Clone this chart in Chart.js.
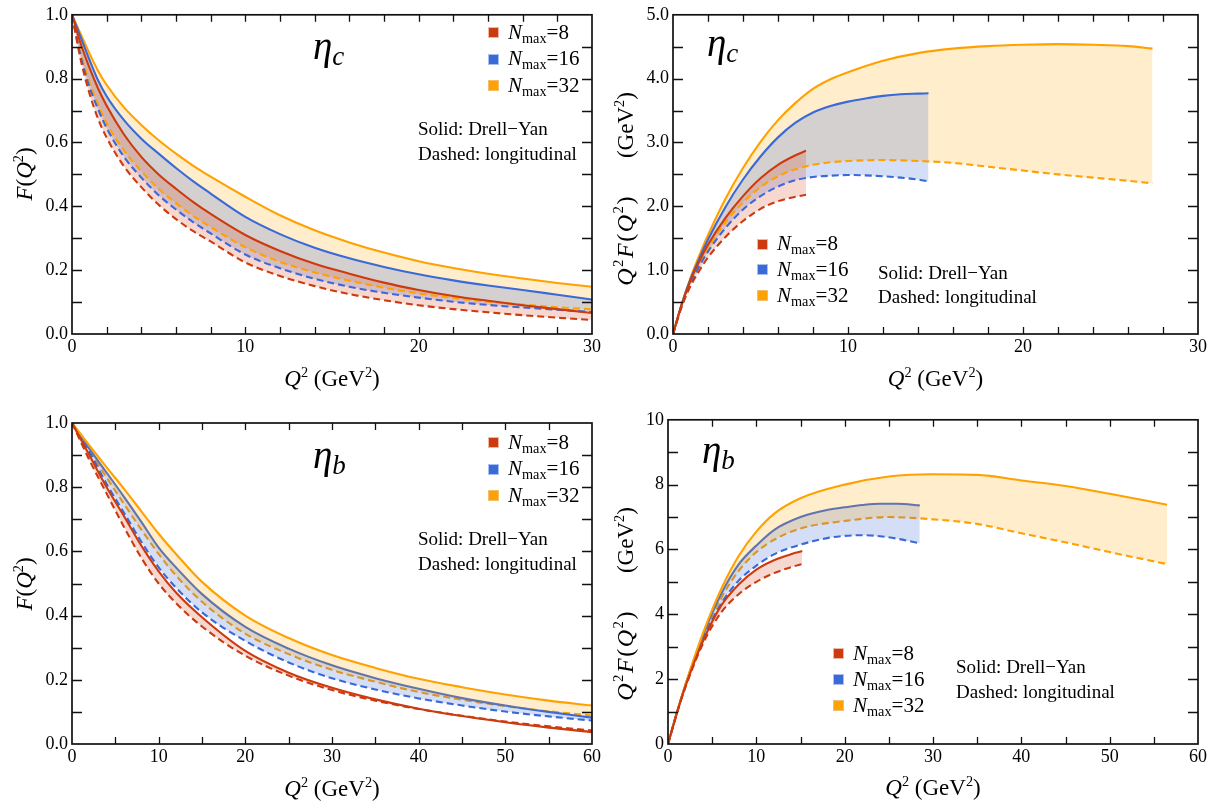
<!DOCTYPE html>
<html><head><meta charset="utf-8">
<script src="https://cdn.jsdelivr.net/npm/chart.js@4.4.0/dist/chart.umd.min.js"></script>
<style>
body{margin:0;background:#fff;width:1216px;height:805px;position:relative;overflow:hidden;font-family:'Liberation Serif','Times New Roman',serif;color:#000;}
.pane{position:absolute;width:608px;height:400px;}
.pane canvas{display:block;}
.t{position:absolute;white-space:nowrap;z-index:5;}
.sup{font-size:0.62em;vertical-align:0.62em;line-height:0;}
.sub{font-size:0.68em;vertical-align:-0.28em;line-height:0;}
.gap{display:inline-block;width:37px;}
.wide{letter-spacing:1.5px;font-size:24px;}
.eta{font-size:39px;line-height:39px;font-style:italic;}
.eta .s{font-size:27px;vertical-align:-0.22em;line-height:0;}
.leg{font-size:21px;line-height:21px;}
.note{font-size:19px;line-height:19px;}
.ax{font-size:23px;line-height:23px;transform:translate(-50%,-50%);}
.ay{font-size:23px;line-height:23px;transform:translate(-50%,-50%) rotate(-90deg);}
.sw{position:absolute;width:9px;height:9px;z-index:5;}
</style></head><body>

<div class="pane" style="left:0;top:0"><canvas id="c1" width="608" height="400"></canvas></div>
<div class="pane" style="left:608px;top:0"><canvas id="c2" width="608" height="400"></canvas></div>
<div class="pane" style="left:0;top:405px"><canvas id="c3" width="608" height="400"></canvas></div>
<div class="pane" style="left:608px;top:405px"><canvas id="c4" width="608" height="400"></canvas></div>

<script>
// ---------------- data: eta_c, F(Q^2) ----------------
const q2_cF = [0, 0.5, 1, 1.5, 2, 3, 4, 5, 6, 7, 8, 10, 12, 14, 16, 18, 20, 22, 24, 26, 28, 30];
const cF_N8_DY  = [1, 0.91, 0.835, 0.77, 0.715, 0.625, 0.555, 0.5, 0.455, 0.413, 0.376, 0.31, 0.26, 0.22, 0.189, 0.161, 0.138, 0.119, 0.104, 0.09, 0.078, 0.066];
const cF_N8_L   = [1, 0.86, 0.755, 0.675, 0.615, 0.525, 0.46, 0.405, 0.36, 0.322, 0.29, 0.224, 0.182, 0.15, 0.125, 0.106, 0.09, 0.078, 0.068, 0.059, 0.051, 0.044];
const cF_N16_DY = [1, 0.93, 0.86, 0.795, 0.745, 0.67, 0.612, 0.565, 0.52, 0.478, 0.44, 0.367, 0.313, 0.27, 0.237, 0.21, 0.187, 0.168, 0.152, 0.138, 0.123, 0.108];
const cF_N16_L  = [1, 0.87, 0.775, 0.705, 0.645, 0.555, 0.49, 0.435, 0.39, 0.35, 0.315, 0.249, 0.206, 0.173, 0.148, 0.129, 0.114, 0.101, 0.091, 0.083, 0.076, 0.069];
const cF_N32_DY = [1, 0.94, 0.88, 0.825, 0.78, 0.71, 0.655, 0.607, 0.565, 0.527, 0.493, 0.43, 0.372, 0.325, 0.287, 0.255, 0.228, 0.207, 0.189, 0.174, 0.16, 0.148];
const cF_N32_L  = [1, 0.88, 0.79, 0.72, 0.66, 0.575, 0.51, 0.455, 0.41, 0.37, 0.335, 0.272, 0.226, 0.193, 0.167, 0.145, 0.127, 0.113, 0.101, 0.092, 0.084, 0.077];

// ---------------- data: eta_c, Q^2 F(Q^2) ----------------
const q2_cQ_N8  = [0, 0.5, 1, 1.5, 2, 3, 4, 5, 6, 7, 7.6];
const cQ_N8_DY  = [0, 0.46, 0.84, 1.14, 1.4, 1.82, 2.16, 2.44, 2.65, 2.8, 2.87];
const cQ_N8_L   = [0, 0.43, 0.75, 0.99, 1.2, 1.52, 1.77, 1.96, 2.08, 2.15, 2.18];
const q2_cQ_N16 = [0, 0.5, 1, 1.5, 2, 3, 4, 5, 6, 7, 8, 9, 10, 11, 12, 13, 14, 14.6];
const cQ_N16_DY = [0, 0.47, 0.86, 1.18, 1.48, 1.99, 2.42, 2.78, 3.08, 3.31, 3.47, 3.57, 3.64, 3.69, 3.73, 3.755, 3.765, 3.77];
const cQ_N16_L  = [0, 0.44, 0.78, 1.06, 1.29, 1.66, 1.95, 2.16, 2.31, 2.41, 2.46, 2.48, 2.49, 2.485, 2.47, 2.45, 2.42, 2.39];
const q2_cQ_N32 = [0, 0.5, 1, 1.5, 2, 3, 4, 5, 6, 7, 8, 9, 10, 12, 14, 16, 18, 20, 22, 24, 26, 27.4];
const cQ_N32_DY = [0, 0.47, 0.88, 1.23, 1.55, 2.12, 2.6, 3.01, 3.35, 3.62, 3.84, 3.99, 4.1, 4.28, 4.4, 4.47, 4.51, 4.53, 4.54, 4.53, 4.51, 4.47];
const cQ_N32_L  = [0, 0.44, 0.79, 1.08, 1.33, 1.75, 2.06, 2.3, 2.47, 2.58, 2.65, 2.69, 2.71, 2.725, 2.71, 2.68, 2.62, 2.56, 2.5, 2.45, 2.4, 2.36];

// ---------------- data: eta_b, F(Q^2) ----------------
const q2_bF = [0, 2, 4, 6, 8, 10, 12, 15, 20, 25, 30, 35, 40, 45, 50, 55, 60];
const bF_N8_DY  = [1, 0.9, 0.8, 0.71, 0.618, 0.538, 0.472, 0.395, 0.29, 0.222, 0.175, 0.139, 0.11, 0.087, 0.068, 0.051, 0.037];
const bF_N8_L   = [1, 0.885, 0.78, 0.676, 0.58, 0.5, 0.439, 0.366, 0.275, 0.213, 0.168, 0.135, 0.109, 0.088, 0.07, 0.055, 0.042];
const bF_N16_DY = [1, 0.92, 0.845, 0.77, 0.692, 0.612, 0.55, 0.467, 0.365, 0.297, 0.245, 0.205, 0.172, 0.143, 0.12, 0.1, 0.082];
const bF_N16_L  = [1, 0.91, 0.81, 0.72, 0.63, 0.55, 0.487, 0.41, 0.321, 0.254, 0.205, 0.17, 0.142, 0.12, 0.101, 0.086, 0.073];
const bF_N32_DY = [1, 0.93, 0.862, 0.795, 0.725, 0.655, 0.592, 0.505, 0.4, 0.33, 0.277, 0.237, 0.203, 0.177, 0.154, 0.135, 0.12];
const bF_N32_L  = [1, 0.915, 0.83, 0.748, 0.668, 0.592, 0.525, 0.443, 0.344, 0.28, 0.231, 0.194, 0.162, 0.138, 0.118, 0.102, 0.089];

// ---------------- data: eta_b, Q^2 F(Q^2) ----------------
const q2_bQ_N8  = [0, 1, 2, 4, 6, 8, 10, 12, 14, 15.2];
const bQ_N8_DY  = [0, 0.95, 1.8, 3.2, 4.26, 4.92, 5.38, 5.67, 5.86, 5.95];
const bQ_N8_L   = [0, 0.94, 1.77, 3.12, 4.05, 4.62, 5.0, 5.27, 5.46, 5.55];
const q2_bQ_N16 = [0, 1, 2, 4, 6, 8, 10, 12, 15, 18, 20, 22, 24, 26, 28.5];
const bQ_N16_DY = [0, 0.96, 1.84, 3.38, 4.62, 5.54, 6.12, 6.6, 7.0, 7.22, 7.3, 7.37, 7.41, 7.41, 7.36];
const bQ_N16_L  = [0, 0.95, 1.82, 3.24, 4.32, 5.04, 5.5, 5.85, 6.15, 6.35, 6.42, 6.44, 6.41, 6.33, 6.19];
const q2_bQ_N32 = [0, 1, 2, 4, 6, 8, 10, 12, 15, 20, 25, 30, 35, 40, 45, 50, 56.5];
const bQ_N32_DY = [0, 0.97, 1.86, 3.45, 4.77, 5.8, 6.55, 7.1, 7.58, 8.0, 8.25, 8.32, 8.3, 8.13, 7.96, 7.72, 7.38];
const bQ_N32_L  = [0, 0.96, 1.83, 3.32, 4.49, 5.34, 5.92, 6.3, 6.65, 6.88, 7.0, 6.93, 6.79, 6.5, 6.22, 5.92, 5.55];

// legend / colours
const seriesNames = ['8', '16', '32'];
const lineColors = ['#cc3a0e', '#3a69d8', '#ffa100'];
const bandColors = ['rgba(214,62,20,0.2)', 'rgba(58,105,216,0.22)', 'rgba(255,165,0,0.2)'];
const swatchBorders = ['#eeb7a6', '#a9bfee', '#f0c070'];
// draw order for the eta_b panels: [N8 DY, N8 L, N16 DY, N16 L, N32 DY, N32 L]
const layeredOrder = [0, 1, 3, 4, 2, 5];

function pts(xs, ys){ return xs.map((x,i)=>({x:x, y:ys[i]})); }

function makeSets(groups, orders){
  const ds = [];
  groups.forEach((g,k)=>{
    const iSolid = ds.length;
    ds.push({data: pts(g[0], g[1]), borderColor: lineColors[k], borderWidth: 2.1,
      order: orders ? orders[iSolid] : 0,
      fill: {target: iSolid+1, above: bandColors[k], below: bandColors[k]}});
    ds.push({data: pts(g[0], g[2]), borderColor: lineColors[k], borderWidth: 2.1,
      order: orders ? orders[iSolid+1] : 0,
      borderDash: [7,4], fill: false});
  });
  return ds;
}

const frameTicks = {
  id: 'frameTicks',
  afterDraw(chart){
    const ctx = chart.ctx, a = chart.chartArea, x = chart.scales.x, y = chart.scales.y;
    ctx.save();
    ctx.strokeStyle = '#111'; ctx.lineWidth = 1.3;
    ctx.beginPath();
    x.ticks.forEach(t=>{
      if (t.value <= x.min || t.value >= x.max) return;
      const px = Math.round(x.getPixelForValue(t.value)) + 0.5;
      ctx.moveTo(px, a.bottom); ctx.lineTo(px, a.bottom - 7);
      ctx.moveTo(px, a.top); ctx.lineTo(px, a.top + 7);
    });
    y.ticks.forEach(t=>{
      if (t.value <= y.min || t.value >= y.max) return;
      const py = Math.round(y.getPixelForValue(t.value)) + 0.5;
      ctx.moveTo(a.left, py); ctx.lineTo(a.left + 10, py);
      ctx.moveTo(a.right, py); ctx.lineTo(a.right - 10, py);
    });
    ctx.stroke();
    ctx.lineWidth = 1.7;
    ctx.strokeRect(a.left, a.top, a.right - a.left, a.bottom - a.top);
    ctx.restore();
  }
};

function makeChart(id, datasets, cfg){
  return new Chart(document.getElementById(id), {
    type: 'line',
    data: {datasets: datasets},
    options: {
      responsive: false, animation: false,
      layout: {padding: {left: 0, top: cfg.T, right: cfg.R, bottom: 0}},
      elements: {point: {radius: 0}, line: {cubicInterpolationMode: 'monotone'}},
      plugins: {legend: {display: false}, tooltip: {enabled: false},
        filler: {drawTime: cfg.fillTime, propagate: false}},
      scales: {
        x: {type: 'linear', min: 0, max: cfg.xmax,
          grid: {display: false, drawTicks: false}, border: {display: false},
          afterFit: s => { s.height = cfg.H; },
          ticks: {stepSize: cfg.xstep, autoSkip: false, maxRotation: 0, padding: 2, color: '#000',
            font: {family: "'Liberation Serif', serif", size: 18},
            callback: v => cfg.xlab(v)}},
        y: {type: 'linear', min: 0, max: cfg.ymax,
          grid: {display: false, drawTicks: false}, border: {display: false},
          afterFit: s => { s.width = cfg.L; },
          ticks: {stepSize: cfg.ystep, autoSkip: false, padding: 4, color: '#000',
            font: {family: "'Liberation Serif', serif", size: 18},
            callback: v => cfg.ylab(v)}}
      }
    },
    plugins: [frameTicks]
  });
}

const labEvery = (step, fmt) => v => {
  const r = Math.round(v / step);
  return Math.abs(v - r*step) < 1e-6 ? fmt(v) : '';
};

makeChart('c1', makeSets([[q2_cF, cF_N8_DY, cF_N8_L],[q2_cF, cF_N16_DY, cF_N16_L],[q2_cF, cF_N32_DY, cF_N32_L]]),
  {L:72, T:13, R:16, H:66, xmax:30, xstep:2, ymax:1, ystep:0.1, fillTime:'beforeDatasetsDraw',
   xlab: labEvery(10, v=>String(Math.round(v))), ylab: labEvery(0.2, v=>v.toFixed(1))});
makeChart('c2', makeSets([[q2_cQ_N8, cQ_N8_DY, cQ_N8_L],[q2_cQ_N16, cQ_N16_DY, cQ_N16_L],[q2_cQ_N32, cQ_N32_DY, cQ_N32_L]]),
  {L:65, T:12, R:18, H:66, xmax:30, xstep:2, ymax:5, ystep:0.5, fillTime:'beforeDatasetsDraw',
   xlab: labEvery(10, v=>String(Math.round(v))), ylab: labEvery(1, v=>v.toFixed(1))});
makeChart('c3', makeSets([[q2_bF, bF_N8_DY, bF_N8_L],[q2_bF, bF_N16_DY, bF_N16_L],[q2_bF, bF_N32_DY, bF_N32_L]], layeredOrder),
  {L:72, T:18, R:16, H:61, xmax:60, xstep:5, ymax:1, ystep:0.1, fillTime:'beforeDatasetDraw',
   xlab: labEvery(10, v=>String(Math.round(v))), ylab: labEvery(0.2, v=>v.toFixed(1))});
makeChart('c4', makeSets([[q2_bQ_N8, bQ_N8_DY, bQ_N8_L],[q2_bQ_N16, bQ_N16_DY, bQ_N16_L],[q2_bQ_N32, bQ_N32_DY, bQ_N32_L]], layeredOrder),
  {L:60, T:13, R:18, H:61, xmax:60, xstep:5, ymax:10, ystep:1, fillTime:'beforeDatasetDraw',
   xlab: labEvery(10, v=>String(Math.round(v))), ylab: labEvery(2, v=>String(Math.round(v)))});

// ---------------- text overlays ----------------
function addText(html, cls, left, top){
  const d = document.createElement('div');
  d.className = 't ' + cls; d.innerHTML = html;
  d.style.left = left + 'px'; d.style.top = top + 'px';
  document.body.appendChild(d);
}
function addLegend(swLeft, centers){
  centers.forEach((c,k)=>{
    const s = document.createElement('div');
    s.className = 'sw';
    s.style.left = swLeft + 'px'; s.style.top = (c - 5) + 'px';
    s.style.background = lineColors[k]; s.style.border = '1px solid ' + swatchBorders[k];
    document.body.appendChild(s);
    addText('<i>N</i><span class="sub">max</span>=' + seriesNames[k], 'leg', swLeft + 20, c - 10.5);
  });
}
function addNotes(left, c1, c2){
  addText('Solid: Drell\u2212Yan', 'note', left, c1 - 9.5);
  addText('Dashed: longitudinal', 'note', left, c2 - 9.5);
}
const xTitle = '<i>Q</i><span class="sup">2</span> (GeV<span class="sup">2</span>)';
const fTitle = '<i>F</i>(<i>Q</i><span class="sup">2</span>)';
const qfTitle = '<span class="wide"><i>Q</i><span class="sup">2</span><i>F</i>(<i>Q</i><span class="sup">2</span>)</span><span class="gap"></span>(GeV<span class="sup">2</span>)';

// panel 1
addText('\u03b7<span class="s">c</span>', 'eta', 313, 26);
addLegend(488, [32, 58.5, 85]);
addNotes(418, 128, 153);
addText(xTitle, 'ax', 332, 378);
addText(fTitle, 'ay', 24, 173.5);
// panel 2
addText('\u03b7<span class="s">c</span>', 'eta', 707, 23);
addLegend(757, [243.5, 269, 295]);
addNotes(878, 272, 296.5);
addText(xTitle, 'ax', 935.5, 378);
addText(qfTitle, 'ay', 625, 189);
// panel 3
addText('\u03b7<span class="s">b</span>', 'eta', 313, 435);
addLegend(488, [442, 468.5, 495]);
addNotes(418, 538.5, 563.5);
addText(xTitle, 'ax', 332, 788);
addText(fTitle, 'ay', 24, 583.5);
// panel 4
addText('\u03b7<span class="s">b</span>', 'eta', 702, 430);
addLegend(833, [653, 679, 705]);
addNotes(956, 666.5, 691.5);
addText(xTitle, 'ax', 933, 787);
addText(qfTitle, 'ay', 625, 604);
</script>
</body></html>
